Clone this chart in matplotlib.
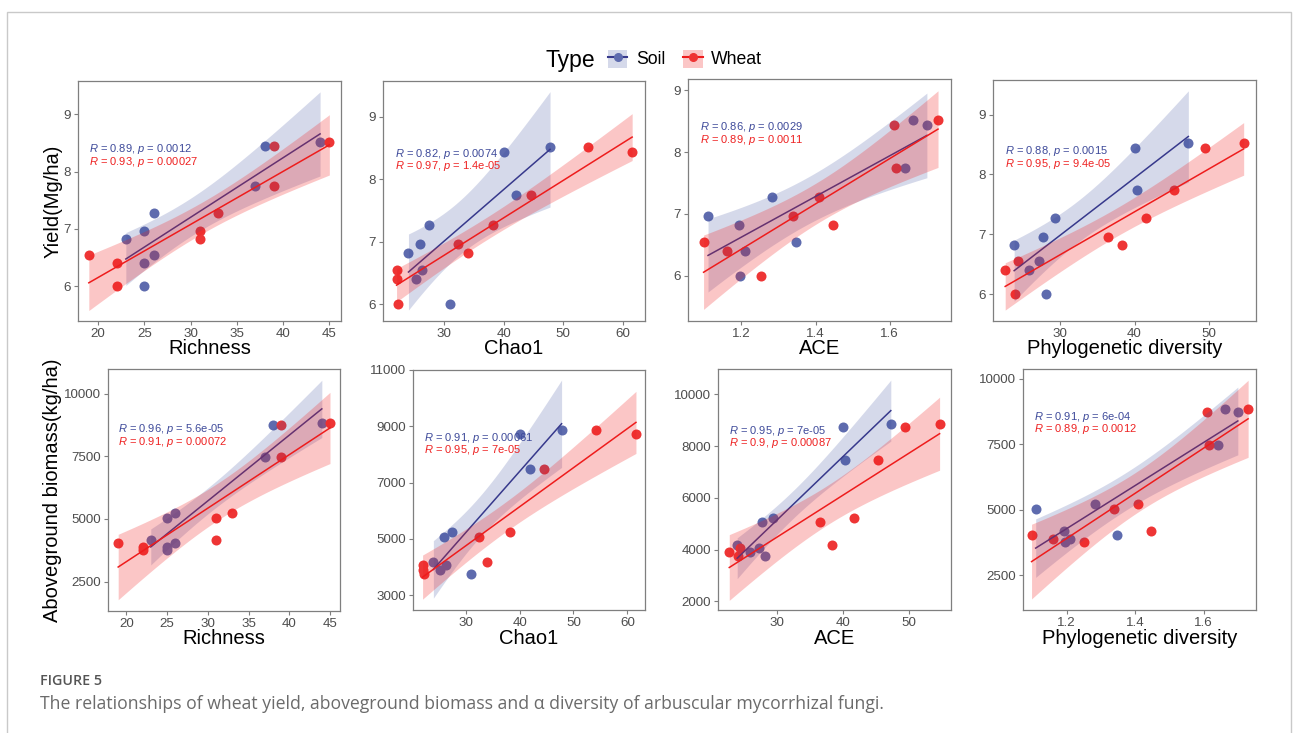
import numpy as np
import matplotlib
matplotlib.use("Agg")
import matplotlib.pyplot as plt
from matplotlib.patches import Patch, Rectangle
from matplotlib.lines import Line2D

plt.rcParams['font.family'] = ['Liberation Sans', 'DejaVu Sans']
plt.rcParams['mathtext.fontset'] = 'custom'
plt.rcParams['mathtext.rm'] = 'Liberation Sans'
plt.rcParams['mathtext.it'] = 'Liberation Sans:italic'

# nine plots: wheat yield (Mg/ha) and aboveground biomass (kg/ha)
yield_vals = [6.00, 6.40, 6.55, 6.82, 6.96, 7.27, 7.74, 8.44, 8.52]
biomass_vals = [3760, 3890, 4050, 4180, 5050, 5230, 7480, 8740, 8850]

# alpha diversity of AMF, soil and wheat (root) samples
richness_soil = [25, 25, 26, 23, 25, 26, 37, 38, 44]
richness_wheat = [22, 22, 19, 31, 31, 33, 39, 39, 45]
chao1_soil = [31.0, 25.3, 26.3, 24.0, 25.9, 27.4, 42.0, 40.0, 47.8]
chao1_wheat = [22.3, 22.0, 22.0, 34.0, 32.4, 38.2, 44.6, 61.6, 54.1]
index_a_soil = [1.195, 1.21, 1.348, 1.193, 1.11, 1.283, 1.642, 1.70, 1.662]
index_a_wheat = [1.252, 1.16, 1.098, 1.447, 1.34, 1.409, 1.617, 1.611, 1.73]
index_b_soil = [28.1, 25.9, 27.2, 23.9, 27.7, 29.3, 40.3, 40.0, 47.2]
index_b_wheat = [24.0, 22.7, 24.4, 38.3, 36.4, 41.6, 45.3, 49.4, 54.6]

x_labels = ['Richness', 'Chao1', 'ACE', 'Phylogenetic diversity']
y_labels = ['Yield(Mg/ha)', 'Aboveground biomass(kg/ha)']

cor_soil = [['0.89', '0.0012'], ['0.82', '0.0074'], ['0.86', '0.0029'], ['0.88', '0.0015'],
            ['0.96', '5.6e-05'], ['0.91', '0.00061'], ['0.95', '7e-05'], ['0.91', '6e-04']]
cor_wheat = [['0.93', '0.00027'], ['0.97', '1.4e-05'], ['0.89', '0.0011'], ['0.95', '9.4e-05'],
             ['0.91', '0.00072'], ['0.95', '7e-05'], ['0.9', '0.00087'], ['0.89', '0.0012']]

x_ticks = [[20, 25, 30, 35, 40, 45], [30, 40, 50, 60], [1.2, 1.4, 1.6], [30, 40, 50],
           [20, 25, 30, 35, 40, 45], [30, 40, 50, 60], [30, 40, 50], [1.2, 1.4, 1.6]]
y_ticks = [[6, 7, 8, 9]] * 4 + [[2500, 5000, 7500, 10000], [3000, 5000, 7000, 9000, 11000],
                                [2000, 4000, 6000, 8000, 10000], [2500, 5000, 7500, 10000]]

# ---- layout (pixels of a 1293x733 canvas) ----
W, H = 1293, 733
boxes = [(78, 81, 341, 321), (383, 81, 645, 321), (688, 79, 951, 321), (993, 80, 1256, 321),
         (108, 369, 340, 611), (413, 370, 645, 610), (718, 369, 951, 610), (1023, 369, 1256, 610)]
xlims = [(17.83, 46.26), (19.72, 63.76), (1.056, 1.765), (21.07, 56.25),
         (17.75, 46.23), (20.22, 63.28), (20.99, 56.33), (1.073, 1.753)]
ylims = [(5.39, 9.58), (5.73, 9.57), (5.27, 9.18), (5.55, 9.58),
         (1327, 10987), (2467, 11000), (1665, 10979), (1175, 10382)]
text_pos = [(0.042, 0.715), (0.045, 0.696), (0.047, 0.80), (0.047, 0.705),
            (0.045, 0.752), (0.046, 0.718), (0.046, 0.743), (0.049, 0.802)]

soil_pt, wheat_pt = '#5E6BAE', '#EE3535'
soil_line, wheat_line = '#37398C', '#EE1C1C'
soil_fill, wheat_fill = '#3C4E9E', '#F21D1D'
soil_alpha, wheat_alpha = 0.21, 0.25
T_CRIT = 2.3646  # t(0.975, df=7)


def lm_band(x, y):
    x = np.asarray(x, float)
    y = np.asarray(y, float)
    b, a = np.polyfit(x, y, 1)
    xs = np.linspace(x.min(), x.max(), 80)
    fit = a + b * xs
    resid = y - (a + b * x)
    s = np.sqrt(np.sum(resid ** 2) / (len(x) - 2))
    sxx = np.sum((x - x.mean()) ** 2)
    se = s * np.sqrt(1 / len(x) + (xs - x.mean()) ** 2 / sxx)
    return xs, fit, fit - T_CRIT * se, fit + T_CRIT * se


panels = [
    (richness_soil, richness_wheat, yield_vals),
    (chao1_soil, chao1_wheat, yield_vals),
    (index_a_soil, index_a_wheat, yield_vals),
    (index_b_soil, index_b_wheat, yield_vals),
    (richness_soil, richness_wheat, biomass_vals),
    (chao1_soil, chao1_wheat, biomass_vals),
    (index_b_soil, index_b_wheat, biomass_vals),
    (index_a_soil, index_a_wheat, biomass_vals),
]

fig = plt.figure(figsize=(W / 100, H / 100), dpi=100)
fig.patches.append(Rectangle((7 / W, -0.05), 1284 / W, 1.05 - 12 / H, transform=fig.transFigure,
                             fill=False, edgecolor='#C9C9C9', lw=1.0))

for i, (xs_soil, xs_wheat, yv) in enumerate(panels):
    l, t, r, b = boxes[i]
    ax = fig.add_axes([l / W, 1 - b / H, (r - l) / W, (b - t) / H])
    ax.scatter(xs_soil, yv, s=52, color=soil_pt, linewidths=0, zorder=2)
    ax.scatter(xs_wheat, yv, s=52, color=wheat_pt, linewidths=0, zorder=2)

    gx, fit, lo, hi = lm_band(xs_soil, yv)
    ax.fill_between(gx, lo, hi, color=soil_fill, alpha=soil_alpha, lw=0, zorder=3)
    ax.plot(gx, fit, color=soil_line, lw=1.1, zorder=4)
    gx, fit, lo, hi = lm_band(xs_wheat, yv)
    ax.fill_between(gx, lo, hi, color=wheat_fill, alpha=wheat_alpha, lw=0, zorder=5)
    ax.plot(gx, fit, color=wheat_line, lw=1.1, zorder=6)

    tx, ty = text_pos[i]
    ax.text(tx, ty, r'$\it{R}$ = %s, $\it{p}$ = %s' % tuple(cor_soil[i]), transform=ax.transAxes,
            color='#3E4A9A', fontsize=8.0, va='center', ha='left')
    ax.text(tx, ty - 0.052, r'$\it{R}$ = %s, $\it{p}$ = %s' % tuple(cor_wheat[i]), transform=ax.transAxes,
            color='#EE2222', fontsize=8.0, va='center', ha='left')

    ax.set_xlim(*xlims[i])
    ax.set_ylim(*ylims[i])
    ax.set_xticks(x_ticks[i])
    ax.set_yticks(y_ticks[i])
    ax.tick_params(colors='#7F7F7F', labelcolor='#4D4D4D', labelsize=9.6, length=3, width=0.8, pad=2)
    for sp in ax.spines.values():
        sp.set_color('#7F7F7F')
        sp.set_linewidth(0.9)

    fig.text((l + r) / 2 / W, 1 - (b + 28) / H, x_labels[i % 4], ha='center', va='center', fontsize=14.5)

fig.text(53 / W, 1 - 201 / H, y_labels[0], rotation=90, ha='center', va='center', fontsize=14.5)
fig.text(52 / W, 1 - 490 / H, y_labels[1], rotation=90, ha='center', va='center', fontsize=14.5)

# legend
fig.text(545 / W, 1 - 60 / H, 'Type', ha='left', va='center', fontsize=16.5)
handles = [
    (Patch(facecolor=soil_fill, alpha=soil_alpha, edgecolor='none'),
     Line2D([], [], color=soil_line, marker='o', markerfacecolor=soil_pt, markeredgecolor=soil_pt, markersize=5.5)),
    (Patch(facecolor=wheat_fill, alpha=wheat_alpha, edgecolor='none'),
     Line2D([], [], color=wheat_line, marker='o', markerfacecolor=wheat_pt, markeredgecolor=wheat_pt, markersize=5.5)),
]
fig.legend(handles, ['Soil', 'Wheat'], loc='center left', bbox_to_anchor=(608 / W, 1 - 59 / H),
           ncol=2, frameon=False, fontsize=12.7, handlelength=1.1, handleheight=1.2,
           handletextpad=0.5, columnspacing=1.0, borderaxespad=0, borderpad=0)

fig.text(40 / W, 1 - 681 / H, 'FIGURE 5', ha='left', va='center', fontsize=10.3,
         color='#555555', family=['Open Sans', 'DejaVu Sans'], fontweight='semibold')
fig.text(40 / W, 1 - 704 / H,
         'The relationships of wheat yield, aboveground biomass and \u03b1 diversity of arbuscular mycorrhizal fungi.',
         ha='left', va='center', fontsize=12.7, color='#6B6B6B', family=['Open Sans', 'DejaVu Sans'])

fig.savefig('out.png', dpi=100)
